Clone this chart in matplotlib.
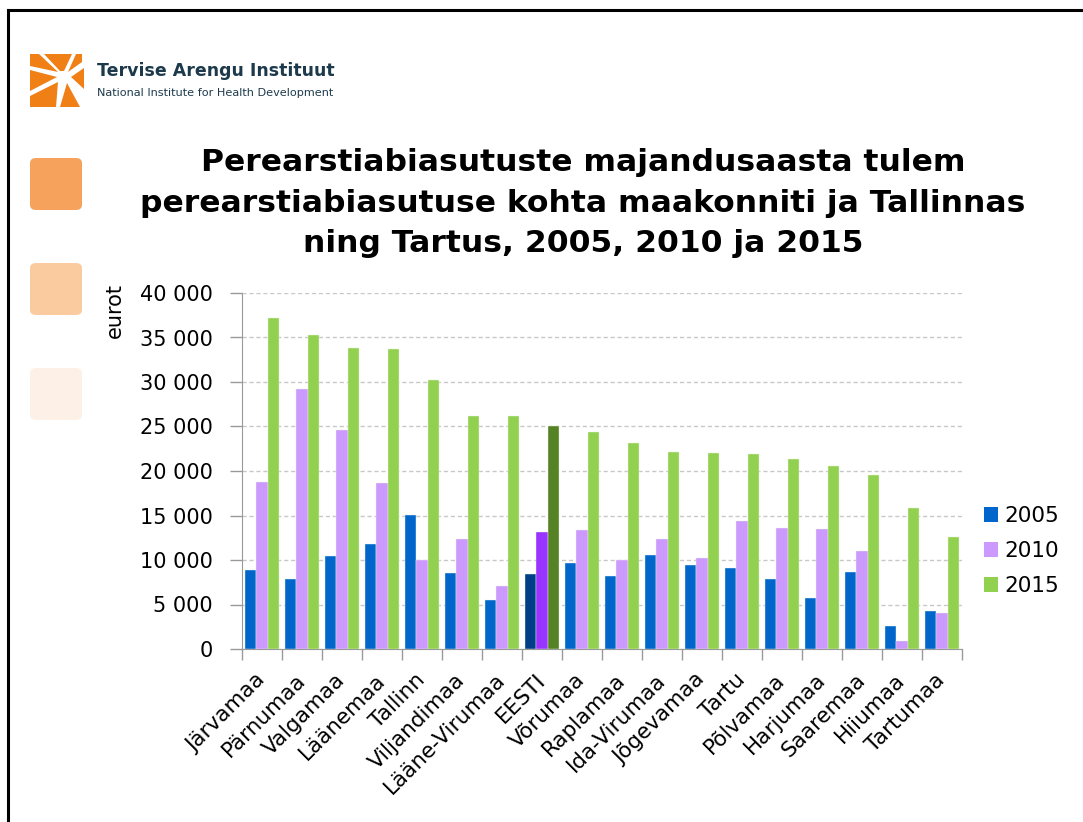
import matplotlib
matplotlib.use("Agg")
import matplotlib.pyplot as plt
import numpy as np
from matplotlib.patches import Rectangle, FancyBboxPatch, Polygon
from matplotlib.lines import Line2D
from matplotlib.transforms import ScaledTranslation

plt.rcParams['font.family'] = ['DejaVu Sans']

categories = ["Järvamaa", "Pärnumaa", "Valgamaa", "Läänemaa", "Tallinn", "Viljandimaa",
              "Lääne-Virumaa", "EESTI", "Võrumaa", "Raplamaa", "Ida-Virumaa", "Jõgevamaa",
              "Tartu", "Põlvamaa", "Harjumaa", "Saaremaa", "Hiiumaa", "Tartumaa"]
series_names = ["2005", "2010", "2015"]
v2005 = [8850, 7870, 10500, 11770, 15030, 8590, 5510, 8440, 9710,
         8210, 10570, 9410, 9070, 7870, 5770, 8660, 2590, 4270]
v2010 = [18740, 29200, 24560, 18670, 10010, 12410, 7120, 13200, 13420,
         10010, 12370, 10230, 14400, 13610, 13500, 11020, 940, 4050]
v2015 = [37150, 35310, 33850, 33700, 30180, 26170, 26130, 25080, 24370,
         23170, 22080, 22040, 21860, 21370, 20540, 19530, 15820, 12630]
yticks = [0, 5000, 10000, 15000, 20000, 25000, 30000, 35000, 40000]
ytick_labels = ["0", "5 000", "10 000", "15 000", "20 000", "25 000", "30 000", "35 000", "40 000"]

colors = ["#0066CC", "#CC99FF", "#92D050"]
highlight = ["#003F87", "#9933FF", "#548224"]
hl_cat = "EESTI"

W, H = 1083, 822
fig = plt.figure(figsize=(W / 100, H / 100), dpi=100)

def fx(px):
    return px / W

def fy(py):
    return 1 - py / H

def P(pts):
    return [[fx(a), fy(b)] for a, b in pts]

# frame lines (top and left)
fig.add_artist(Line2D([fx(8), fx(8)], [fy(10), 0], color="black", lw=2.2, transform=fig.transFigure))
fig.add_artist(Line2D([fx(8), 1], [fy(10), fy(10)], color="black", lw=2.2, transform=fig.transFigure))

# logo
orange = "#F07F16"
logo_pieces = [
    [(30, 54), (39, 54), (58, 72), (30, 66)],
    [(44, 54), (72, 54), (64, 71), (60, 71)],
    [(76, 54), (82, 54), (82, 62), (68, 72)],
    [(71, 77), (84, 68), (84, 89)],
    [(67, 83), (80, 107), (60, 107)],
    [(58, 82), (56, 107), (30, 107), (30, 96)],
    [(30, 70), (57, 77), (30, 91)],
]
for pts in logo_pieces:
    fig.add_artist(Polygon(P(pts), closed=True, transform=fig.transFigure,
                           facecolor=orange, edgecolor="none"))
fig.text(fx(97), fy(71), "Tervise Arengu Instituut", fontsize=12.5, fontweight="bold",
         color="#1D3A4C", va="center", ha="left")
fig.text(fx(97), fy(93), "National Institute for Health Development", fontsize=8.1,
         color="#1D3A4C", va="center", ha="left")

# decorative squares
for y0, c in [(158, "#F6A25C"), (263, "#FACB9E"), (368, "#FDF1E7")]:
    fig.add_artist(FancyBboxPatch((fx(30), fy(y0 + 52)), fx(52), 52 / H,
                                  boxstyle="round,pad=0.0,rounding_size=0.006",
                                  transform=fig.transFigure, facecolor=c, edgecolor="none"))

# title
fig.text(fx(583), fy(203), "Perearstiabiasutuste majandusaasta tulem\n"
         "perearstiabiasutuse kohta maakonniti ja Tallinnas\n"
         "ning Tartus, 2005, 2010 ja 2015",
         ha="center", va="center", fontsize=22.6, fontweight="bold", linespacing=1.5)

ax = fig.add_axes([fx(242), fy(649), fx(962) - fx(242), (649 - 293) / H])
x = np.arange(len(categories))
bw = 0.283
for k, (vals, name) in enumerate(zip([v2005, v2010, v2015], series_names)):
    cols = [highlight[k] if c == hl_cat else colors[k] for c in categories]
    ax.bar(x + (k - 1) * bw, vals, width=bw, color=cols, edgecolor="#EAF2E0", linewidth=0.3,
           label=name, zorder=3)

ax.set_xlim(-0.5, len(categories) - 0.5)
ax.set_ylim(0, 40000)
ax.set_yticks(yticks)
ax.set_yticklabels(ytick_labels, fontsize=15)
ax.yaxis.grid(True, color="#C8C8C8", linestyle=(0, (3, 2)), linewidth=1.0, zorder=0)
ax.set_xticks(x)
ax.set_xticklabels(categories, rotation=45, ha="right", va="center", rotation_mode="anchor",
                   fontsize=15.5)
shift = ScaledTranslation(6 / 100, 0, fig.dpi_scale_trans)
for lbl in ax.get_xticklabels():
    lbl.set_transform(lbl.get_transform() + shift)
ax.tick_params(axis="x", which="major", length=0, pad=20)
ax.set_xticks(np.arange(-0.5, len(categories), 1.0), minor=True)
ax.tick_params(axis="x", which="minor", length=8, color="#999999", width=1)
ax.tick_params(axis="y", length=9, color="#999999", width=1, pad=12)
for s in ["top", "right"]:
    ax.spines[s].set_visible(False)
ax.spines["left"].set_color("#999999")
ax.spines["bottom"].set_color("#999999")
ax.set_ylabel("eurot", fontsize=15)
ax.yaxis.set_label_coords(-0.163, 0.95)

leg_handles = [Rectangle((0, 0), 1, 1, facecolor=c, edgecolor="none") for c in colors]
ax.legend(leg_handles, series_names, loc="center left", bbox_to_anchor=(1.0, 0.275),
          frameon=False, fontsize=15.5, handlelength=0.65, handleheight=0.65,
          handletextpad=0.3, labelspacing=0.7, borderaxespad=0.6)

fig.savefig("out.png", dpi=100)
